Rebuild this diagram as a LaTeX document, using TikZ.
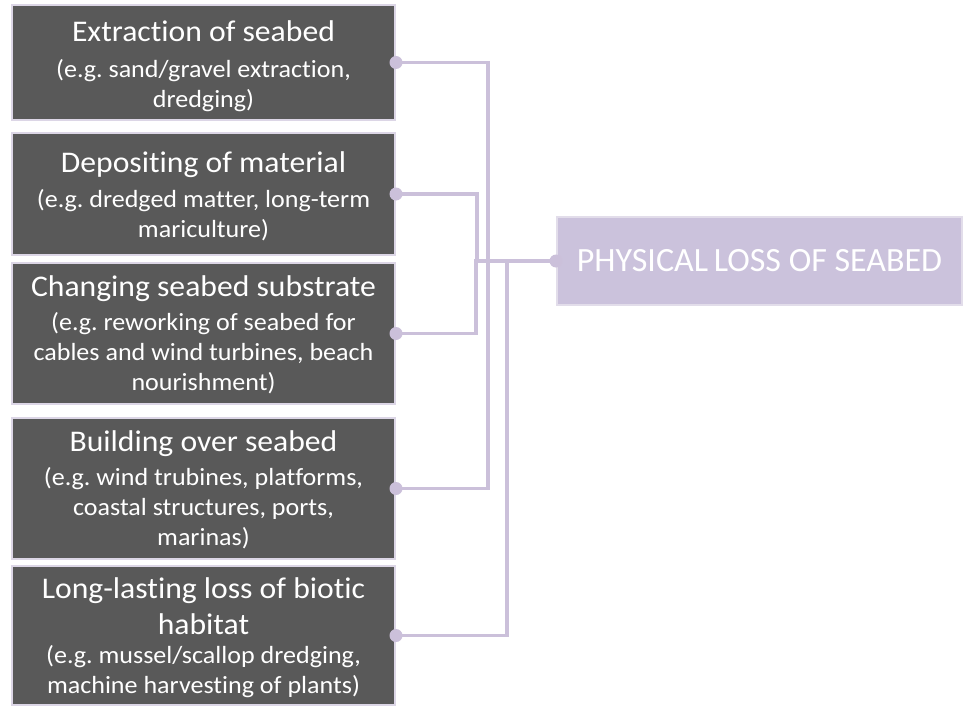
\documentclass[tikz,border=0pt]{standalone}
\usepackage{fontspec}
\setmainfont{Carlito}[Ligatures=NoCommon]
\newfontfamily\boxfont{Carlito}[FakeStretch=1.055, Ligatures=NoCommon]
\frenchspacing
\definecolor{boxfill}{HTML}{595959}
\definecolor{boxline}{HTML}{DCD6E6}
\definecolor{conn}{HTML}{CBC0DA}
\definecolor{mainfill}{HTML}{CBC2DC}
\definecolor{mainline}{HTML}{E2DDEA}
\tikzset{
  srcbox/.style={draw=boxline, line width=2pt, fill=boxfill,
    minimum width=383pt, inner sep=0pt},
  ttl/.style={text=white, anchor=base, inner sep=0pt,
    font=\boxfont\frenchspacing\fontsize{30}{36}\selectfont},
  sub/.style={text=white, anchor=base, inner sep=0pt,
    font=\boxfont\frenchspacing\fontsize{24.7}{30}\selectfont},
  mainbox/.style={draw=mainline, line width=2pt, fill=mainfill, text=white,
    minimum width=405pt, minimum height=88pt, align=center, inner sep=0pt,
    font=\fontsize{34}{40}\selectfont},
  link/.style={draw=conn, line width=3.5pt},
  dot/.style={circle, fill=conn, minimum size=13pt, inner sep=0pt}
}
\begin{document}
\begin{tikzpicture}[x=1pt,y=-1pt]
\useasboundingbox (0,0) rectangle (963,706);
% boxes
\node[srcbox, minimum height=115pt] (b1) at (203.5,62.5) {};
\node[srcbox, minimum height=122pt] (b2) at (203.5,194) {};
\node[srcbox, minimum height=141pt] (b3) at (203.5,333.5) {};
\node[srcbox, minimum height=141pt] (b4) at (203.5,488.5) {};
\node[srcbox, minimum height=139pt] (b5) at (203.5,635.5) {};
% texts
\node[ttl] (t1a) at (203.5,41.5) {Extraction of seabed};
\node[sub] (t1b) at (203.5,78) {(e.g. sand/gravel extraction,};
\node[sub] (t1c) at (203.5,107) {dredging)};
\node[ttl] (t2a) at (203.5,172) {Depositing of material};
\node[sub] (t2b) at (203.5,207) {(e.g. dredged matter, long-term};
\node[sub] (t2c) at (203.5,237) {mariculture)};
\node[ttl] (t3a) at (203.5,296) {Changing seabed substrate};
\node[sub] (t3b) at (203.5,330) {(e.g. reworking of seabed for};
\node[sub] (t3c) at (203.5,360) {cables and wind turbines, beach};
\node[sub] (t3d) at (203.5,390) {nourishment)};
\node[ttl] (t4a) at (203.5,451) {Building over seabed};
\node[sub] (t4b) at (203.5,485) {(e.g. wind trubines, platforms,};
\node[sub] (t4c) at (203.5,515) {coastal structures, ports,};
\node[sub] (t4d) at (203.5,545) {marinas)};
\node[ttl] (t5a) at (203.5,598) {Long-lasting loss of biotic};
\node[ttl] (t5b) at (203.5,634) {habitat};
\node[sub] (t5c) at (203.5,663) {(e.g. mussel/scallop dredging,};
\node[sub] (t5d) at (203.5,693) {machine harvesting of plants)};
% main
\node[mainbox] (m) at (759.5,261) {PHYSICAL\kern-2pt\ LOSS OF SEABED};
% connectors
\coordinate (c1) at (488,0);
\coordinate (c2) at (477,0);
\coordinate (c3) at (476,0);
\coordinate (c4) at (488,0);
\coordinate (c5) at (507,0);
\foreach \i in {1,...,5}{
  \draw[link] (b\i.east) -- (b\i.east -| c\i) |- (m.west);
}
\foreach \i in {1,...,5}{
  \node[dot] (d\i) at (b\i.east) {};
}
\node[dot] (dm) at (m.west) {};
\end{tikzpicture}
\end{document}
